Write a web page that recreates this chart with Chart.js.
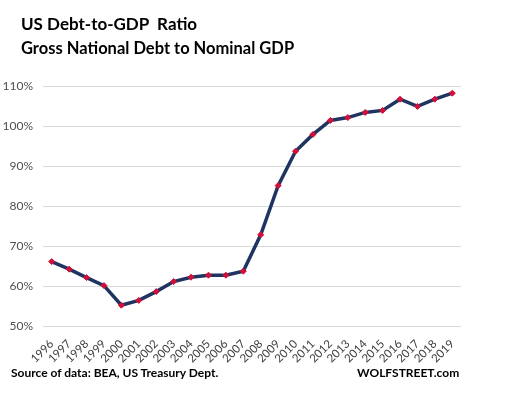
<!DOCTYPE html>
<html>
<head>
<meta charset="utf-8">
<script src="https://cdn.jsdelivr.net/npm/chart.js@4"></script>
<style>
  body { margin: 0; background: #fff; }
  #wrap { position: relative; width: 513px; height: 396px; }
  #chart { position: absolute; left: 0; top: 0; }
  .txt { position: absolute; font-family: Lato, "Open Sans", sans-serif; font-weight: bold; color: #000; white-space: nowrap; }
</style>
</head>
<body>
<div id="wrap">
  <canvas id="chart" width="513" height="396"></canvas>
  <div class="txt" style="left:21px; top:13px; font-size:17px;">US Debt-to-GDP&nbsp; Ratio</div>
  <div class="txt" style="left:21px; top:38px; font-size:16.5px;">Gross National Debt to Nominal GDP</div>
  <div class="txt" style="left:11px; top:365px; font-size:12px;">Source of data: BEA, US Treasury Dept.</div>
  <div class="txt" style="left:357px; top:365px; font-size:12px;">WOLFSTREET.com</div>
</div>
<script>
YEARS = ["1996", "1997", "1998", "1999", "2000", "2001", "2002", "2003", "2004", "2005", "2006", "2007",
         "2008", "2009", "2010", "2011", "2012", "2013", "2014", "2015", "2016", "2017", "2018", "2019"]
// debt-to-GDP ratio, %
RATIO = [66.1, 64.2, 62.1, 60.1, 55.2, 56.4, 58.6, 61.1, 62.2, 62.7, 62.7, 63.7,
         72.8, 85.1, 93.7, 97.9, 101.4, 102.1, 103.4, 103.9, 106.7, 104.9, 106.7, 108.2]
Y_MIN = 50
Y_MAX = 110
Y_STEP = 10

new Chart('chart', {
    type: 'line',
    data: {
        labels: YEARS,
        datasets: [{
            label: 'Debt-to-GDP',
            data: RATIO,
            borderColor: '#1f3461',
            borderWidth: 3.5,
            pointStyle: 'rectRot',
            pointRadius: 3,
            pointBackgroundColor: '#d0103a',
            pointBorderColor: '#d0103a',
            pointBorderWidth: 1,
            tension: 0
        }]
    },
    options: {
        responsive: false,
        animation: false,
        layout: { padding: { top: 86, right: 52, left: 0, bottom: 0 } },
        plugins: { legend: { display: false }, tooltip: { enabled: false } },
        scales: {
            x: {
                offset: true,
                grid: { display: false },
                border: { display: false },
                ticks: {
                    color: '#404040',
                    font: { family: 'Lato', size: 11.5 },
                    maxRotation: 45,
                    minRotation: 45,
                    autoSkip: false,
                    padding: 3
                },
                afterFit: function(scale) { scale.height = 70 }
            },
            y: {
                min: Y_MIN,
                max: Y_MAX,
                grid: { color: '#d9d9d9', lineWidth: 1, drawTicks: false },
                border: { display: false },
                ticks: {
                    stepSize: Y_STEP,
                    color: '#505050',
                    font: { family: 'Lato', size: 12 },
                    padding: 10,
                    callback: function(v) { return v + '%' }
                },
                afterFit: function(scale) { scale.width = 43 }
            }
        }
    }
});
</script>
</body>
</html>
